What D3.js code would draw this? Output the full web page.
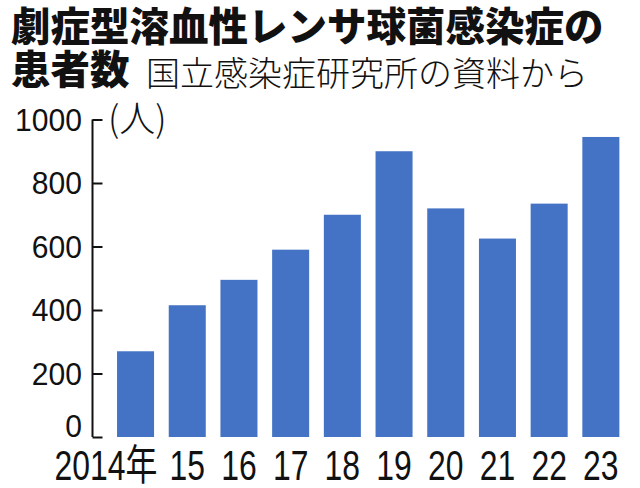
<!DOCTYPE html>
<html><head><meta charset="utf-8">
<script src="https://cdn.jsdelivr.net/npm/d3@7/dist/d3.min.js"></script>
<style>
html,body{margin:0;padding:0;background:#fff;}
svg{display:block;}
</style></head>
<body>
<svg id="chart" width="640" height="488"></svg>
<script>
const titleLine1 = "劇症型溶血性レンサ球菌感染症の";
const titleLine2 = "患者数";
const sourceText = "国立感染症研究所の資料から";
const unitLabel = "(人)";
const categories = ["2014年","15","16","17","18","19","20","21","22","23"];
const values = [270, 415, 495, 590, 700, 900, 720, 625, 735, 945];
const yTicks = [0, 200, 400, 600, 800, 1000];

const svg = d3.select("#chart");
const CJK = "'Noto Sans CJK JP', sans-serif";
const NUM = "'Liberation Sans', 'Noto Sans CJK JP', sans-serif";

// Title
svg.append("text").attr("x", 11).attr("y", 41)
  .style("font-family", CJK).style("font-weight", 900).style("font-size", "39.5px")
  .attr("fill", "#111").text(titleLine1);
svg.append("text").attr("x", 11).attr("y", 84)
  .style("font-family", CJK).style("font-weight", 900).style("font-size", "39.5px")
  .attr("fill", "#111").text(titleLine2);
svg.append("text").attr("x", 146).attr("y", 86)
  .style("font-family", CJK).style("font-weight", 300).style("font-size", "34px")
  .attr("fill", "#111").text(sourceText);

// Scales
const x = d3.scaleBand().domain(categories).range([109.7, 626.7])
  .paddingInner(0.284).paddingOuter(0.142);
const y = d3.scaleLinear().domain([0, 1000]).range([437, 119.5]);

// Bars
svg.append("g").selectAll("rect").data(values).join("rect")
  .attr("x", (d, i) => x(categories[i]))
  .attr("width", x.bandwidth())
  .attr("y", d => y(d))
  .attr("height", d => y(0) - y(d))
  .attr("fill", "#4472c4");

// Y axis
const yAxis = d3.axisRight(y).tickValues(yTicks).tickSize(10).tickFormat("");
const ga = svg.append("g").attr("transform", "translate(92.5,0)").call(yAxis);
ga.select(".domain").attr("stroke", "#111").attr("stroke-width", 2).attr("d", `M0,${y(1000)}V${y(0)}`);
ga.selectAll(".tick line").attr("stroke", "#111").attr("stroke-width", 2);

svg.append("g").selectAll("text").data(yTicks).join("text")
  .attr("transform", d => `translate(82,${d === 0 ? y(d) : y(d) + 11}) scale(0.94,1)`)
  .attr("text-anchor", "end")
  .style("font-family", NUM).style("font-size", "32px").attr("fill", "#111")
  .text(d => d);

svg.append("text").attr("x", 108).attr("y", 132)
  .style("font-family", CJK).style("font-weight", 300).style("font-size", "36px")
  .attr("fill", "#111").text(unitLabel);

// X labels
svg.append("g").selectAll("text").data(categories).join("text")
  .attr("transform", (d, i) => i === 0
      ? `translate(${x(d) + x.bandwidth() / 2 + 22},480) scale(0.76,1)`
      : `translate(${x(d) + x.bandwidth() / 2},480) scale(0.76,1)`)
  .attr("text-anchor", (d, i) => i === 0 ? "end" : "middle")
  .style("font-family", NUM).style("font-size", "42px").attr("fill", "#111")
  .text(d => d);
</script>
</body></html>
